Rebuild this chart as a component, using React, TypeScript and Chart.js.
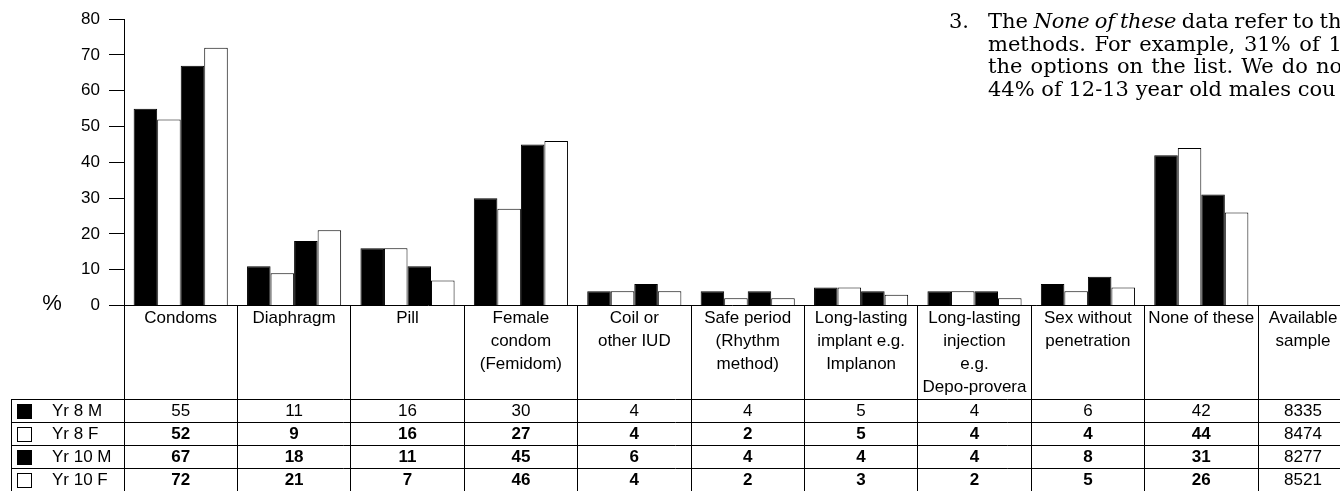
import React, { useEffect, useRef } from "react";
import { Chart, registerables } from "chart.js";

Chart.register(...registerables);

// ---- data ----
const categories: string[][] = [
  ["Condoms"],
  ["Diaphragm"],
  ["Pill"],
  ["Female", "condom", "(Femidom)"],
  ["Coil or", "other IUD"],
  ["Safe period", "(Rhythm", "method)"],
  ["Long-lasting", "implant e.g.", "Implanon"],
  ["Long-lasting", "injection", "e.g.", "Depo-provera"],
  ["Sex without", "penetration"],
  ["None of these"],
];
const sampleHeader = ["Available", "sample"];
const seriesNames = ["Yr 8 M", "Yr 8 F", "Yr 10 M", "Yr 10 F"];
const seriesColors = ["#000000", "#ffffff", "#000000", "#ffffff"];
const yr8M = [55, 11, 16, 30, 4, 4, 5, 4, 6, 42];
const yr8F = [52, 9, 16, 27, 4, 2, 5, 4, 4, 44];
const yr10M = [67, 18, 11, 45, 6, 4, 4, 4, 8, 31];
const yr10F = [72, 21, 7, 46, 4, 2, 3, 2, 5, 26];
const availableSample = [8335, 8474, 8277, 8521];
const yMin = 0;
const yMax = 80;
const yStep = 10;
const yUnit = "%";
const noteNumber = "3.";
const noteLines: { text: string; italic?: boolean }[][] = [
  [{ text: "The " }, { text: "None of these", italic: true }, { text: " data refer to th" }],
  [{ text: "methods. For example, 31% of 1" }],
  [{ text: "the options on the list. We do no" }],
  [{ text: "44% of 12-13 year old males cou" }],
];
const noteWordSpacing = [-1, 2, 1.5, 0];

const FONT = '"Liberation Sans", Arial, sans-serif';

const align = (v: number) => Math.round(v - 0.5) + 0.5;

const tablePlugin = {
  id: "dataTable",
  afterDraw(chart: any) {
    const ctx: CanvasRenderingContext2D = chart.ctx;
    const xs = chart.scales.x;
    const ys = chart.scales.y;
    const W = chart.width;
    const H = chart.height;
    const n = chart.data.labels.length;
    const cw = (xs.right - xs.left) / n;
    const baseY = align(ys.getPixelForValue(0));
    const lineH = 23;
    const headerH = 93.5;
    const rowTop = ys.getPixelForValue(0) + headerH;
    const sampleCenter = xs.left + n * cw + 45;

    ctx.save();
    ctx.strokeStyle = "#000";
    ctx.lineWidth = 1;

    // baseline / table top border
    ctx.beginPath();
    ctx.moveTo(align(xs.left), baseY);
    ctx.lineTo(W, baseY);
    // column borders
    for (let i = 0; i <= n; i++) {
      const x = align(xs.left + i * cw);
      ctx.moveTo(x, baseY);
      ctx.lineTo(x, H);
    }
    // row borders
    for (let r = 0; r < chart.data.datasets.length; r++) {
      const y = align(rowTop + r * lineH);
      ctx.moveTo(11, y);
      ctx.lineTo(W, y);
    }
    // left border of legend column
    ctx.moveTo(11.5, align(rowTop));
    ctx.lineTo(11.5, H);
    ctx.stroke();

    ctx.fillStyle = "#000";
    ctx.textBaseline = "middle";
    ctx.textAlign = "center";
    ctx.font = `17px ${FONT}`;

    // header labels
    chart.data.labels.forEach((lab: string[], i: number) => {
      const cx = xs.left + i * cw + cw / 2;
      lab.forEach((t, k) => ctx.fillText(t, cx, baseY + 13 + k * lineH));
    });
    sampleHeader.forEach((t, k) => ctx.fillText(t, sampleCenter, baseY + 13 + k * lineH));

    // rows
    chart.data.datasets.forEach((ds: any, r: number) => {
      const cy = rowTop + r * lineH + 12;
      // legend key
      ctx.fillStyle = ds.backgroundColor;
      ctx.fillRect(17, Math.round(cy - 7.5), 15, 15);
      ctx.strokeStyle = "#000";
      ctx.strokeRect(17.5, Math.round(cy - 7.5) + 0.5, 14, 14);
      ctx.fillStyle = "#000";
      ctx.textAlign = "left";
      ctx.font = `17px ${FONT}`;
      ctx.fillText(ds.label, 52, cy);
      ctx.textAlign = "center";
      ctx.font = `${r > 0 ? "bold " : ""}17px ${FONT}`;
      ds.data.forEach((v: number, i: number) => {
        ctx.fillText(String(v), xs.left + i * cw + cw / 2, cy);
      });
      ctx.font = `17px ${FONT}`;
      ctx.fillText(String(availableSample[r]), sampleCenter, cy);
    });

    // unit label
    ctx.font = `22px ${FONT}`;
    ctx.textAlign = "center";
    ctx.fillText(yUnit, 52, baseY - 2);
    ctx.restore();
  },
};

export default function App() {
  const ref = useRef<HTMLCanvasElement>(null);

  useEffect(() => {
    if (!ref.current) return;
    const datasets = [yr8M, yr8F, yr10M, yr10F].map((d, i) => ({
      label: seriesNames[i],
      data: d,
      backgroundColor: seriesColors[i],
      borderColor: "#000000",
      borderWidth: 1,
      categoryPercentage: 0.83,
      barPercentage: 1,
    }));
    const chart = new Chart(ref.current, {
      type: "bar",
      data: { labels: categories as any, datasets },
      options: {
        animation: false,
        responsive: false,
        maintainAspectRatio: false,
        devicePixelRatio: 1,
        events: [],
        layout: { padding: { top: 18, right: 82, bottom: 185.5, left: 0 } },
        plugins: { legend: { display: false }, tooltip: { enabled: false } },
        scales: {
          x: { display: false },
          y: {
            min: yMin,
            max: yMax,
            ticks: {
              stepSize: yStep,
              color: "#000",
              padding: 9,
              font: { family: FONT, size: 17 },
            },
            grid: {
              drawOnChartArea: false,
              drawTicks: true,
              tickLength: 15,
              color: "#000",
              lineWidth: 1,
            },
            border: { display: true, color: "#000", width: 1 },
            afterFit: (s: any) => {
              s.width = 124;
            },
          },
        },
      },
      plugins: [tablePlugin],
    });
    return () => chart.destroy();
  }, []);

  return (
    <div
      style={{
        position: "fixed",
        left: 0,
        top: 0,
        width: 1340,
        height: 491,
        overflow: "hidden",
        background: "#fff",
      }}
    >
      <canvas ref={ref} width={1340} height={491} style={{ width: 1340, height: 491, display: "block" }} />
      <div
        style={{
          position: "absolute",
          left: 0,
          top: 10,
          width: 1340,
          fontFamily: '"DejaVu Serif", serif',
          fontSize: 21,
          lineHeight: "22.5px",
          color: "#000",
          whiteSpace: "nowrap",
        }}
      >
        <span style={{ position: "absolute", left: 949, top: 0 }}>{noteNumber}</span>
        {noteLines.map((line, i) => (
          <div key={i} style={{ marginLeft: 988, wordSpacing: noteWordSpacing[i] }}>
            {line.map((seg, j) => (
              <span
                key={j}
                style={{
                  fontStyle: seg.italic ? "italic" : "normal",
                  letterSpacing: seg.italic ? -0.3 : 0,
                }}
              >
                {seg.text}
              </span>
            ))}
          </div>
        ))}
      </div>
    </div>
  );
}
